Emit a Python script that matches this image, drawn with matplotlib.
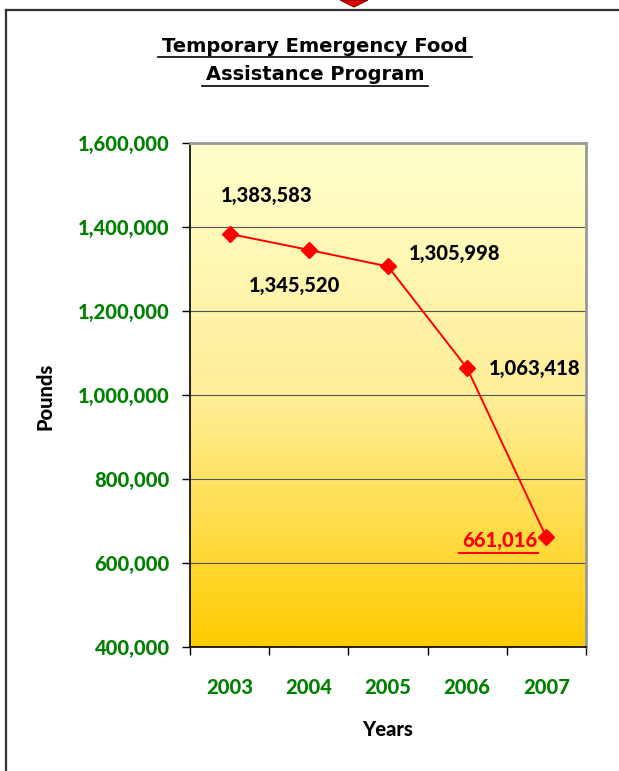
import matplotlib
matplotlib.use("Agg")
import matplotlib.pyplot as plt
import numpy as np
from matplotlib.colors import LinearSegmentedColormap
from matplotlib.patches import Polygon
from matplotlib.lines import Line2D

years = ["2003", "2004", "2005", "2006", "2007"]
pounds = [1383583, 1345520, 1305998, 1063418, 661016]
labels = ["1,383,583", "1,345,520", "1,305,998", "1,063,418", "661,016"]
yticks = [400000, 600000, 800000, 1000000, 1200000, 1400000, 1600000]

W, H = 619, 771
fig = plt.figure(figsize=(W / 100, H / 100), dpi=100)
ax = fig.add_axes([190 / W, 1 - 647 / H, (586 - 190) / W, (647 - 143) / H])

# gradient background (light at top, gold at bottom)
cmap = LinearSegmentedColormap.from_list("g", ["#FFFFCC", "#FFEE99", "#FFCC00"])
grad = np.linspace(0, 1, 256).reshape(-1, 1)
ax.imshow(grad, aspect="auto", cmap=cmap, extent=[-0.5, 4.5, 400000, 1600000],
          origin="upper", zorder=0)

x = np.arange(len(years))
ax.plot(x, pounds, color="#FF0000", lw=1.4, marker="D", ms=8.5, mfc="#FF0000",
        mec="#FF0000", zorder=3)

ax.set_xlim(-0.5, 4.5)
ax.set_ylim(400000, 1600000)
ax.set_yticks(yticks)
ax.set_yticklabels([f"{v:,}" for v in yticks])
for v in yticks[1:-1]:
    ax.axhline(v, color="#555555", lw=0.8, zorder=1)

ax.set_xticks(x)
ax.set_xticklabels(years)
ax.set_xticks(np.arange(-0.5, 5, 1), minor=True)
ax.tick_params(axis="x", which="major", length=0, pad=22)
ax.tick_params(axis="x", which="minor", length=6, width=1, color="black")
ax.tick_params(axis="y", length=6, width=1, color="black", pad=8.6)

FS = 14.5
WT = 900
for lab in ax.get_xticklabels() + ax.get_yticklabels():
    lab.set_color("#008000")
    lab.set_fontfamily("Lato")
    lab.set_fontweight(WT)
    lab.set_fontsize(FS)

for s in ["left", "bottom"]:
    ax.spines[s].set_color("black")
    ax.spines[s].set_linewidth(1.2)
for s in ["right", "top"]:
    ax.spines[s].set_color("#999999")
    ax.spines[s].set_linewidth(2)

# data labels
offsets = [(37, 38), (-14, -36), (67, 13), (67, 0), (-47, -3)]
for i, (v, lab) in enumerate(zip(pounds, labels)):
    dx, dy = offsets[i]
    col = "black" if i < 4 else "#FF0000"
    ax.annotate(lab, (i, v), xytext=(dx, dy), textcoords="offset pixels",
                ha="center", va="center", color=col, fontsize=FS,
                fontfamily="Lato", fontweight=WT, zorder=4)

# underline for 661,016
fig.add_artist(Line2D([459 / W, 538 / W], [1 - 553 / H, 1 - 553 / H],
                      color="#FF0000", lw=1.5))

fig.text(45 / W, 1 - 396 / H, "Pounds", rotation=90, ha="center", va="center",
         fontsize=14.5, fontfamily="Lato", fontweight=WT)
fig.text(388 / W, 1 - 729 / H, "Years", ha="center", va="center",
         fontsize=14.5, fontfamily="Lato", fontweight=WT)

# title
tf = dict(ha="center", va="center", fontsize=14, fontfamily="DejaVu Sans",
          fontweight="bold")
fig.text(315 / W, 1 - 47 / H, "Temporary Emergency Food", **tf)
fig.text(315 / W, 1 - 75 / H, "Assistance Program", **tf)
fig.add_artist(Line2D([158 / W, 472 / W], [1 - 57 / H, 1 - 57 / H], color="black", lw=1.2))
fig.add_artist(Line2D([202 / W, 428 / W], [1 - 86 / H, 1 - 86 / H], color="black", lw=1.2))

# outer frame
fig.add_artist(Line2D([6 / W, 6 / W], [0, 1 - 10 / H], color="#333333", lw=1.6))
fig.add_artist(Line2D([6 / W, 1], [1 - 10 / H, 1 - 10 / H], color="#333333", lw=1.6))

# decorative red diamond tip at top
fig.add_artist(Polygon([[340 / W, 1.0], [368 / W, 1.0], [354 / W, 1 - 7 / H]],
                       closed=True, transform=fig.transFigure, fc="#E00000",
                       ec="#800000", lw=0.8))

fig.savefig("out.png", dpi=100)
